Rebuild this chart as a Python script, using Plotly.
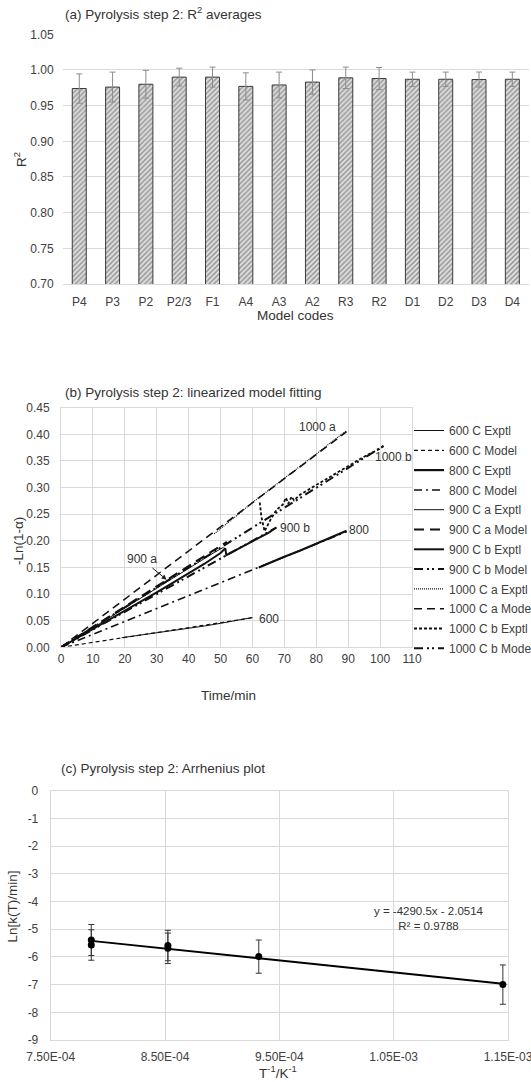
import plotly.graph_objects as go

W, H = 531, 1082

# ---------------- Panel (a) data ----------------
model_codes = ["P4", "P3", "P2", "P2/3", "F1", "A4", "A3", "A2", "R3", "R2", "D1", "D2", "D3", "D4"]
r2_mean = [0.974, 0.976, 0.980, 0.990, 0.990, 0.977, 0.979, 0.983, 0.989, 0.988, 0.987, 0.987, 0.9866, 0.987]
r2_err = [0.0205, 0.021, 0.0195, 0.0125, 0.014, 0.019, 0.018, 0.017, 0.015, 0.0155, 0.010, 0.010, 0.0105, 0.010]
r2_ticks = [0.70, 0.75, 0.80, 0.85, 0.90, 0.95, 1.00, 1.05]

# ---------------- Panel (b) data ----------------
t_600_exp = [19, 25, 30, 35, 40, 45, 50, 55, 60]
v_600_exp = [0.018, 0.023, 0.027, 0.031, 0.036, 0.040, 0.045, 0.050, 0.056]
t_600_mod = [0, 60]
v_600_mod = [0, 0.0555]

t_800_exp = [62, 65, 70, 75, 80, 85, 89.5]
v_800_exp = [0.150, 0.158, 0.170, 0.182, 0.195, 0.207, 0.219]
t_800_mod = [0, 89.5]
v_800_mod = [0, 0.217]

t_900a_exp = [0, 4, 8, 12, 16, 20, 24, 28, 32, 36, 40, 44, 48, 51]
v_900a_exp = [0, 0.014, 0.029, 0.044, 0.059, 0.074, 0.089, 0.104, 0.119, 0.134, 0.149, 0.164, 0.178, 0.188]
t_900a_mod = [0, 52]
v_900a_mod = [0, 0.198]

t_900b_exp = [0, 5, 10, 15, 20, 25, 30, 35, 40, 45, 50, 51.5, 51.8, 55, 58, 62, 65, 67.5]
v_900b_exp = [0, 0.017, 0.034, 0.051, 0.068, 0.085, 0.103, 0.121, 0.139, 0.157, 0.177, 0.186, 0.173, 0.183, 0.193, 0.205, 0.215, 0.225]
t_900b_mod = [0, 67.5]
v_900b_mod = [0, 0.225]

t_1000a_exp = [48, 52, 56, 60, 64, 68, 72, 76, 80, 84, 88, 89.5]
v_1000a_exp = [0.213, 0.232, 0.252, 0.272, 0.290, 0.309, 0.327, 0.345, 0.363, 0.382, 0.399, 0.407]
t_1000a_mod = [0, 89.5]
v_1000a_mod = [0, 0.405]

t_1000b_exp = [62.3, 62.8, 63.8, 65.5, 67.5, 69.5, 70.5, 71.2, 72.3, 73, 75, 80, 85, 90, 95, 100, 101.5]
v_1000b_exp = [0.272, 0.245, 0.218, 0.238, 0.258, 0.268, 0.281, 0.270, 0.283, 0.276, 0.287, 0.305, 0.323, 0.341, 0.358, 0.373, 0.380]
t_1000b_mod = [0, 101.5]
v_1000b_mod = [0, 0.380]

time_ticks = [0, 10, 20, 30, 40, 50, 60, 70, 80, 90, 100, 110]
ln_ticks = [0.00, 0.05, 0.10, 0.15, 0.20, 0.25, 0.30, 0.35, 0.40, 0.45]

# ---------------- Panel (c) data ----------------
inv_T = [7.855e-4, 7.855e-4, 8.525e-4, 8.525e-4, 9.320e-4, 1.1455e-3]
ln_k = [-5.39, -5.57, -5.59, -5.69, -5.99, -7.00]
ln_k_err = [0.56, 0.55, 0.55, 0.55, 0.60, 0.71]
fit_slope = -4290.5
fit_intercept = -2.0514
fit_r2 = 0.9788
invT_tickvals = [7.5e-4, 8.5e-4, 9.5e-4, 1.05e-3, 1.15e-3]
invT_ticktext = ["7.50E-04", "8.50E-04", "9.50E-04", "1.05E-03", "1.15E-03"]
lnk_ticks = [0, -1, -2, -3, -4, -5, -6, -7, -8, -9]
lnk_ticktext = ["0", "-1", "-2", "-3", "-4", "-5", "-6", "-7", "-8", "-9"]

FONT = "Liberation Sans, Arial, sans-serif"
TXT = "#404040"
GRID = "#d9d9d9"


def xd(a, b):
    return [a / W, b / W]


def yd(top, bottom):
    return [1 - bottom / H, 1 - top / H]


def px(x):
    return x / W


def py(y):
    return 1 - y / H


fig = go.Figure()

# ---- Panel (a): bars ----
fig.add_trace(go.Bar(
    x=model_codes, y=r2_mean, xaxis="x", yaxis="y",
    width=0.42,
    marker=dict(color="#c8c8c8", line=dict(color="#3a3a3a", width=1),
                pattern=dict(shape="/", fgcolor="#505050", bgcolor="#e0e0e0", size=3.5, solidity=0.45)),
    error_y=dict(type="data", array=r2_err, color="#8c8c8c", thickness=1, width=3),
    showlegend=False,
))

# ---- Panel (b): lines ----
b_series = [
    ("600 C Exptl", t_600_exp, v_600_exp, "solid", 1.0),
    ("600 C Model", t_600_mod, v_600_mod, "4px,3px", 1.2),
    ("800 C Exptl", t_800_exp, v_800_exp, "solid", 2.2),
    ("800 C Model", t_800_mod, v_800_mod, "8px,4px,2px,4px", 1.5),
    ("900 C a Exptl", t_900a_exp, v_900a_exp, "solid", 1.0),
    ("900 C a Model", t_900a_mod, v_900a_mod, "10px,6px", 2.2),
    ("900 C b Exptl", t_900b_exp, v_900b_exp, "solid", 2.0),
    ("900 C b Model", t_900b_mod, v_900b_mod, "9px,4px,2px,3px,2px,4px", 2.0),
    ("1000 C a Exptl", t_1000a_exp, v_1000a_exp, "1px,1px", 1.2),
    ("1000 C a Model", t_1000a_mod, v_1000a_mod, "8px,5px", 1.5),
    ("1000 C b Exptl", t_1000b_exp, v_1000b_exp, "3px,2px", 1.8),
    ("1000 C b Model", t_1000b_mod, v_1000b_mod, "9px,4px,2px,3px,2px,4px", 2.0),
]
for i, (name, tt, vv, dash, w) in enumerate(b_series):
    fig.add_trace(go.Scatter(
        x=tt, y=vv, mode="lines", name=name, xaxis="x2", yaxis="y2",
        line=dict(color="#111111", width=w, dash=dash),
        legendgroup=f"g{i}", showlegend=True,
    ))

# ---- Panel (c): Arrhenius ----
fit_x = [min(inv_T), max(inv_T)]
fit_y = [fit_slope * v + fit_intercept for v in fit_x]
fig.add_trace(go.Scatter(
    x=fit_x, y=fit_y, mode="lines", xaxis="x3", yaxis="y3",
    line=dict(color="#000000", width=2), showlegend=False,
))
fig.add_trace(go.Scatter(
    x=inv_T, y=ln_k, mode="markers", xaxis="x3", yaxis="y3",
    marker=dict(color="#000000", size=7),
    error_y=dict(type="data", array=ln_k_err, color="#333333", thickness=1, width=3),
    showlegend=False,
))

tickfont = dict(family=FONT, size=12, color=TXT)

fig.update_layout(
    width=W, height=H,
    margin=dict(l=0, r=0, t=0, b=0, autoexpand=False),
    paper_bgcolor="white", plot_bgcolor="white",
    font=dict(family=FONT, color=TXT),
    xaxis=dict(domain=xd(62.6, 529), anchor="y", type="category",
               showgrid=False, showline=True, linecolor=GRID, linewidth=1,
               ticks="", tickfont=tickfont, ticklabelstandoff=7),
    yaxis=dict(domain=yd(34.3, 284), anchor="x", range=[0.70, 1.05],
               tickvals=r2_ticks, tickformat=".2f", showgrid=True, gridcolor=GRID,
               zeroline=False, showline=False, ticks="", tickfont=tickfont, ticklabelstandoff=8),
    xaxis2=dict(domain=xd(61, 412), anchor="y2", range=[0, 110], tickvals=time_ticks,
                showgrid=True, gridcolor=GRID, zeroline=False, showline=True, mirror=True,
                linecolor=GRID, ticks="", tickfont=tickfont, ticklabelstandoff=0,
                ticklabeloverflow="allow"),
    yaxis2=dict(domain=yd(407.7, 647.3), anchor="x2", range=[0, 0.45], tickvals=ln_ticks,
                tickformat=".2f", showgrid=True, gridcolor=GRID, zeroline=False,
                showline=True, mirror=True, linecolor=GRID, ticks="", tickfont=tickfont,
                ticklabelstandoff=8),
    xaxis3=dict(domain=xd(50.7, 508), anchor="y3", range=[7.5e-4, 1.15e-3],
                tickvals=invT_tickvals, ticktext=invT_ticktext,
                showgrid=True, gridcolor=GRID, zeroline=False, showline=True, mirror=True,
                linecolor=GRID, ticks="", tickfont=tickfont, ticklabelstandoff=6,
                ticklabeloverflow="allow"),
    yaxis3=dict(domain=yd(790.7, 1040), anchor="x3", range=[-9, 0], tickvals=lnk_ticks,
                ticktext=lnk_ticktext,
                showgrid=True, gridcolor=GRID, zeroline=False, showline=True, mirror=True,
                linecolor=GRID, ticks="", tickfont=tickfont, ticklabelstandoff=9),
    legend=dict(x=px(409), y=py(416), xanchor="left", yanchor="top",
                font=dict(family=FONT, size=12, color=TXT), bgcolor="rgba(0,0,0,0)",
                traceorder="grouped", tracegroupgap=0.8, itemwidth=30),
)

title_font = dict(family=FONT, size=13.5, color="#333333")
axis_font = dict(family=FONT, size=13.5, color="#333333")
ann = [
    dict(text="(a) Pyrolysis step 2: R<sup>2</sup> averages", x=px(63), y=py(13.3),
         xanchor="left", yanchor="middle", font=title_font),
    dict(text="R<sup>2</sup>", x=px(20), y=py(160), textangle=-90,
         xanchor="center", yanchor="middle", font=axis_font),
    dict(text="Model codes", x=px(295.8), y=py(315), xanchor="center", yanchor="middle", font=axis_font),
    dict(text="(b) Pyrolysis step 2: linearized model fitting", x=px(63), y=py(392.3),
         xanchor="left", yanchor="middle", font=title_font),
    dict(text="-Ln(1-α)", x=px(18), y=py(541), textangle=-90,
         xanchor="center", yanchor="middle", font=axis_font),
    dict(text="Time/min", x=px(228.5), y=py(695), xanchor="center", yanchor="middle", font=axis_font),
    dict(text="(c) Pyrolysis step 2: Arrhenius plot", x=px(58.5), y=py(768.3),
         xanchor="left", yanchor="middle", font=title_font),
    dict(text="Ln[k(T)/min]", x=px(11.5), y=py(907), textangle=-90,
         xanchor="center", yanchor="middle", font=axis_font),
    dict(text="T<sup>-1</sup>/K<sup>-1</sup>", x=px(278), y=py(1071.5),
         xanchor="center", yanchor="middle", font=axis_font),
    dict(text=f"y = {fit_slope}x - {abs(fit_intercept)}<br>R² = {fit_r2}", x=px(428.5), y=py(918.5),
         xanchor="center", yanchor="middle", align="center",
         font=dict(family=FONT, size=11.5, color="#333333")),
]
lab_font = dict(family=FONT, size=12, color="#333333")
b_labels = [("1000 a", 80.5, 0.414), ("1000 b", 104.3, 0.358), ("900 b", 73.2, 0.225),
            ("800", 93.5, 0.220), ("600", 65.2, 0.053)]
for txt, xx, yy in b_labels:
    ann.append(dict(text=txt, x=xx, y=yy, xref="x2", yref="y2", showarrow=False,
                    xanchor="center", yanchor="middle", font=lab_font))
ann.append(dict(text="900 a", x=33.1, y=0.127, xref="x2", yref="y2", ax=25.4, ay=0.165,
                axref="x2", ayref="y2", showarrow=True, arrowhead=2, arrowsize=1,
                arrowwidth=1, arrowcolor="#222222", standoff=0, font=lab_font))

for a in ann:
    a.setdefault("xref", "paper")
    a.setdefault("yref", "paper")
    a.setdefault("showarrow", False)
fig.update_layout(annotations=ann)

fig.write_html("out.html", config={"displayModeBar": False},
               post_script="document.body.style.margin='0';document.body.style.overflow='hidden';")
